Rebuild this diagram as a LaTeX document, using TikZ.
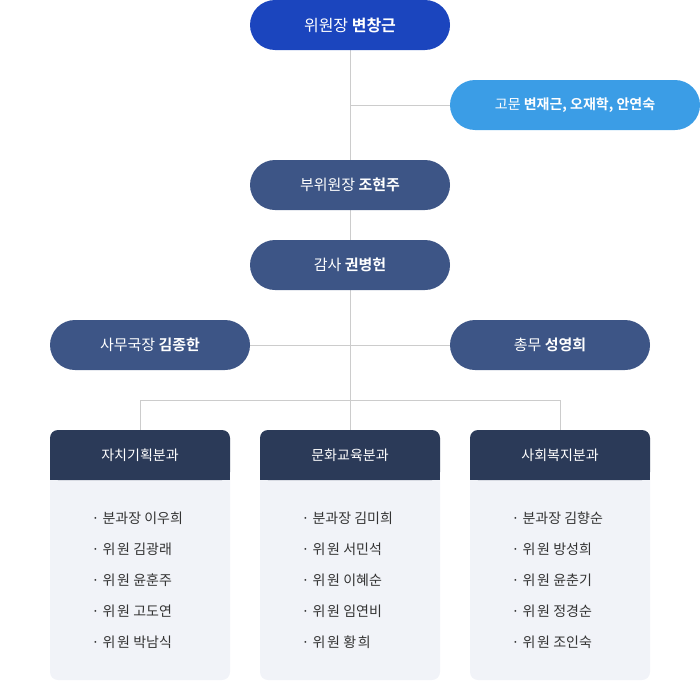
\documentclass[tikz,border=0pt]{standalone}
\usepackage{fontspec}
\setmainfont{Noto Sans CJK KR}
\newfontfamily\bfk{Noto Sans CJK KR Bold}
\definecolor{topblue}{HTML}{1B45BE}
\definecolor{advblue}{HTML}{3B9DE6}
\definecolor{midblue}{HTML}{3D5586}
\definecolor{navy}{HTML}{2B3A58}
\definecolor{panel}{HTML}{F1F3F8}
\definecolor{linec}{HTML}{CCCCCC}
\definecolor{txt}{HTML}{333333}
\newlength\wlen
\settowidth\wlen{분과장}
\newcommand\wiw{\makebox[\wlen][s]{위\hfill 원}}
\newlength\nlen
\settowidth\nlen{김미희}
\begin{document}
\begin{tikzpicture}[x=1pt,y=-1pt,
  pill/.style={rounded corners=25pt,text=white,font=\fontsize{15}{18}\selectfont},
  conn/.style={draw=linec,line width=0.8pt},
  item/.style={anchor=west,text=txt,font=\fontsize{14}{16}\selectfont}]
\useasboundingbox (0,0) rectangle (700,680);
% connectors
\coordinate (v1) at (350,50);
\coordinate (v2) at (350,400);
\coordinate (ah) at (350,105);
\coordinate (bl) at (140,400);
\coordinate (br) at (560,400);
\draw[conn] (v1) -- (v2);
\draw[conn] (ah) -- (450,105);
\draw[conn] (250,345) -- (450,345);
\draw[conn] (bl) -- (br);
\draw[conn] (bl) -- (140,430);
\draw[conn] (v2) -- (350,430);
\draw[conn] (br) -- (560,430);
% pills
\fill[topblue,rounded corners=25pt] (250,0) rectangle (450,50);
\node[text=white,font=\fontsize{16}{18}\selectfont] (top) at (350,25) {위원장 {\bfk 변창근}};
\fill[advblue,rounded corners=25pt] (450,80) rectangle (700,130);
\node[text=white,font=\fontsize{14}{16}\selectfont] (adv) at (575,105) {고문 {\bfk 변재근, 오재학, 안연숙}};
\foreach \x/\y/\n/\t/\b in {250/160/vice/부위원장/조현주,250/240/aud/감사/권병헌,50/320/sec/사무국장/김종한,450/320/gen/총무/성영희}{
  \fill[midblue,rounded corners=25pt] (\x,\y) rectangle ++(200,50);
  \node[text=white,font=\fontsize{15}{18}\selectfont] (\n) at (\x+100,\y+25) {\t\ {\bfk \b}};
}
% panels
\foreach \x/\h in {50/자치기획분과,260/문화교육분과,470/사회복지분과}{
  \fill[panel,rounded corners=8pt] (\x,430) rectangle ++(180,250);
  \fill[navy,rounded corners=8pt] (\x,430) rectangle ++(180,50);
  \fill[navy] (\x,460) rectangle ++(180,20);
  \node[text=white,font=\fontsize{14}{16}\selectfont] at (\x+90,455) {\h};
}
\foreach \x/\a/\b/\c/\d/\e in {88/이우희/김광래/윤훈주/고도연/박남식,298/김미희/서민석/이혜순/임연비/{\makebox[\nlen][s]{황\hfill 희}},508/김향순/방성희/윤춘기/정경순/조인숙}{
  \node[item] at (\x,518) {· 분과장 \a};
  \node[item] at (\x,549) {· \wiw\ \b};
  \node[item] at (\x,580) {· \wiw\ \c};
  \node[item] at (\x,611) {· \wiw\ \d};
  \node[item] at (\x,642) {· \wiw\ \e};
}
\end{tikzpicture}
\end{document}
